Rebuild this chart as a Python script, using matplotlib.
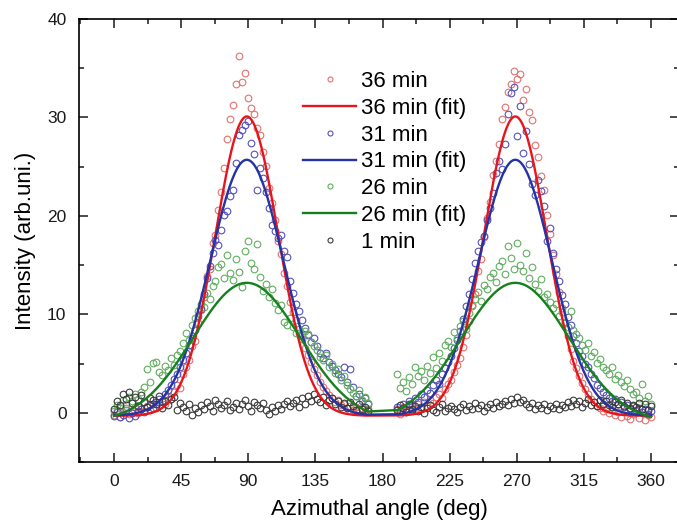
import numpy as np
import matplotlib
matplotlib.use('Agg')
import matplotlib.pyplot as plt
from matplotlib.ticker import MultipleLocator

# azimuthal angles of the measured points, the sector 170-190 deg is blocked by the beam stop
angle_left = np.arange(0, 171, 2)
angle_right = np.arange(190, 361, 2)
angles = np.concatenate([angle_left, angle_right])

# measured intensities (arb. units), 0..170 deg then 190..360 deg
intensity_36min = [
    -0.2, 0.3, -0.4, 0.1, 0.5, -0.1, 0.2, 0.6, 0.0, 0.4,
    0.2, 0.7, 0.3, 0.9, 0.5, 0.8, 1.2, 0.9, 1.6, 1.4,
    2.1, 2.8, 2.5, 3.9, 4.6, 5.4, 6.8, 7.3, 9.1, 10.4,
    11.8, 13.9, 14.6, 17.2, 18.1, 20.6, 22.4, 24.9, 27.8, 29.8,
    31.3, 33.4, 36.2, 33.6, 34.5, 32.0, 31.0, 30.4, 28.9, 28.2,
    26.5, 25.1, 22.8, 21.3, 19.6, 17.4, 16.1, 14.2, 12.9, 11.3,
    10.2, 9.4, 8.1, 7.5, 6.6, 5.9, 5.2, 4.4, 3.8, 3.1,
    2.6, 2.2, 1.8, 1.5, 1.1, 1.3, 0.8, 0.9, 0.5, 0.7,
    0.3, 0.6, 0.2, 0.5, 0.1, 0.4,
    0.4, -0.1, 0.6, 0.2, 0.8, 0.3, 0.5, 0.9, 0.4, 1.1,
    0.7, 1.3, 1.0, 1.6, 1.9, 1.5, 2.4, 2.9, 3.3, 4.1,
    4.9, 5.6, 6.7, 7.9, 9.3, 10.8, 12.1, 14.4, 15.6, 17.9,
    19.8, 21.4, 24.2, 25.6, 27.3, 29.8, 31.1, 32.6, 33.4, 34.7,
    33.9, 34.4, 31.8, 32.9, 30.6, 29.7, 27.2, 26.0, 24.1, 22.6,
    20.1, 18.2, 16.0, 14.1, 12.3, 10.6, 9.2, 7.8, 6.5, 5.3,
    4.5, 3.7, 3.0, 2.4, 1.9, 1.4, 1.1, 0.7, 0.5, 0.2,
    0.4, 0.0, 0.3, -0.2, 0.1, -0.4, 0.2, -0.3, -0.6, -0.1,
    0.2, -0.5, 0.1, -0.7, -0.2, -0.4]

intensity_31min = [
    -0.3, 0.1, -0.4, -0.2, 0.3, -0.5, 0.0, -0.3, 0.2, 0.4,
    0.1, 0.6, 0.8, 0.5, 1.1, 1.4, 1.2, 1.9, 2.3, 2.8,
    3.4, 3.9, 4.6, 5.4, 6.1, 6.9, 7.6, 8.4, 9.8, 10.5,
    12.1, 13.7, 14.9, 16.2, 17.6, 17.0, 18.6, 20.1, 20.5, 22.0,
    22.6, 25.4, 28.2, 28.7, 29.2, 29.6, 27.4, 26.3, 22.6, 24.9,
    23.8, 22.4, 20.8, 19.1, 18.5, 17.8, 18.1, 16.4, 15.8, 13.4,
    12.2, 11.1, 10.3, 9.4, 8.6, 7.9, 7.2, 7.6, 6.8, 6.1,
    5.6, 6.1, 5.2, 4.8, 4.3, 3.9, 3.6, 4.7, 3.1, 4.4,
    2.6, 1.7, 1.9, 1.2, 1.5, 0.9,
    0.6, 0.2, 0.9, 0.4, 1.2, 0.8, 1.5, 1.1, 1.9, 1.6,
    2.3, 2.0, 2.8, 3.3, 2.9, 3.9, 4.5, 5.2, 5.8, 6.6,
    7.4, 8.3, 9.5, 10.8, 12.1, 13.6, 15.2, 16.4, 17.3, 18.0,
    19.6, 20.8, 22.3, 24.4, 25.6, 24.8, 27.3, 30.4, 32.5, 33.1,
    28.1, 31.2, 26.4, 28.6, 25.3, 23.2, 22.1, 23.6, 22.5, 21.0,
    17.5, 18.8, 16.2, 14.6, 13.4, 12.0, 11.1, 9.7, 8.9, 7.8,
    7.1, 6.3, 5.8, 5.0, 4.6, 3.9, 3.5, 2.8, 2.5, 2.1,
    1.8, 1.5, 1.2, 1.4, 0.9, 1.1, 0.6, 0.8, 0.4, 0.7,
    0.3, 0.5, 0.1, 0.4, -0.1, 0.2]

intensity_26min = [
    0.2, 0.8, 0.5, 1.3, 0.9, 1.6, 1.2, 1.9, 1.4, 2.1,
    2.6, 4.4, 3.1, 5.1, 5.2, 4.1, 3.8, 4.8, 4.3, 5.6,
    4.9, 5.9, 6.3, 7.1, 8.1, 7.4, 8.9, 9.6, 10.3, 11.0,
    10.7, 12.2, 11.6, 12.9, 13.4, 14.8, 15.1, 13.7, 16.0, 14.2,
    13.5, 15.6, 14.3, 12.8, 16.4, 17.5, 15.2, 14.6, 17.1, 13.8,
    12.4, 13.1, 11.8, 12.6, 11.2, 10.4, 10.9, 9.2, 8.9, 9.6,
    8.7, 8.1, 8.5, 7.9, 8.3, 8.0, 7.2, 6.8, 6.4, 5.7,
    5.4, 5.9, 4.6, 5.0, 4.0, 4.4, 3.3, 3.7, 2.8, 2.4,
    2.0, 1.7, 2.3, 1.3, 1.6, 1.0,
    3.9, 2.5, 3.1, 2.2, 3.6, 2.9, 4.6, 3.7, 4.2, 3.3,
    4.8, 4.0, 5.7, 4.5, 6.1, 5.3, 6.9, 7.3, 6.7, 8.2,
    7.6, 8.8, 9.3, 8.5, 10.1, 10.9, 11.6, 12.3, 11.4, 13.0,
    12.6, 13.8, 14.2, 13.3, 14.9, 15.4, 14.1, 16.9, 15.7, 14.6,
    17.2, 15.0, 14.4, 16.2, 13.7, 14.8, 13.1, 12.4, 13.6, 11.8,
    12.1, 11.3, 10.6, 11.0, 9.8, 10.2, 9.1, 8.7, 10.3, 8.4,
    8.0, 7.6, 6.9, 6.4, 7.1, 5.8, 6.2, 5.1, 5.5, 4.6,
    4.3, 3.9, 4.7, 3.4, 3.8, 3.1, 2.7, 3.3, 2.4, 1.9,
    2.1, 1.5, 2.9, 1.2, 1.7, 0.9]

intensity_1min = [
    0.4, 1.2, 0.8, 1.9, 1.4, 2.1, 1.0, 1.6, 0.7, 1.8,
    1.1, 0.6, 1.5, 1.3, 0.9, 1.7, 0.5, 1.2, 0.8, 1.4,
    1.6, 0.3, 1.0, 0.6, 0.2, 0.9, -0.2, 0.5, 0.1, 0.8,
    0.4, 1.1, 0.7, 0.2, 1.3, 0.9, 0.5, 0.8, 1.2, 0.3,
    0.6, 1.0, 0.4, 0.9, 1.3, 0.7, 0.2, 1.1, 0.8, 0.5,
    1.0, 0.3, -0.1, 0.6, 0.2, 0.8, 0.4, 0.9, 1.2, 0.7,
    1.0, 1.3, 0.6, 1.5, 0.9, 1.7, 1.2, 1.9, 1.4, 1.1,
    1.6, 0.8, 1.3, 1.5, 0.9, 1.2, 0.6, 1.0, 0.5, 1.1,
    0.7, 0.3, 0.9, 0.4, 0.6, 0.2,
    0.3, 0.8, 0.5, 0.1, 0.9, 0.4, 0.7, 0.2, 0.6, 0.0,
    0.5, 0.8, 0.3, 0.1, 0.6, 0.9, 0.2, 0.5, 0.7, 0.4,
    0.1, 0.6, 0.9, 0.3, 0.7, 0.4, 1.0, 0.5, 0.8, 0.2,
    0.6, 0.9, 0.5, 1.1, 0.7, 0.9, 1.2, 0.8, 1.4, 1.0,
    1.6, 1.1, 1.3, 0.9, 0.6, 1.0, 0.4, 0.8, 0.5, 0.9,
    0.3, 0.7, 0.5, 0.9, 0.4, 0.8, 0.6, 1.1, 0.7, 1.3,
    0.9, 1.2, 0.6, 1.0, 1.4, 0.8, 1.1, 0.7, 1.3, 0.9,
    1.2, 0.8, 0.6, 1.1, 0.9, 1.3, 0.7, 1.0, 0.5, 0.8,
    0.6, 1.0, 0.4, 0.9, 0.3, 0.7]

# Gaussian fit parameters for 36, 31 and 26 min (one peak per half circle)
fit_labels = ['36 min (fit)', '31 min (fit)', '26 min (fit)']
fit_amplitude = [30.4, 26.0, 14.2]
fit_sigma = [21.0, 24.5, 36.0]
fit_offset = [-0.3, -0.3, -1.0]
fit_centers = [89, 269]

scatter_labels = ['36 min', '31 min', '26 min', '1 min']
scatter_data = [intensity_36min, intensity_31min, intensity_26min, intensity_1min]
scatter_colors = ['#e4716f', '#5252bd', '#62ad62', '#3a3a3a']
fit_colors = ['#e8141c', '#2533a3', '#16801e']

plt.rcParams['font.family'] = ['Liberation Sans', 'DejaVu Sans']

fig = plt.figure(figsize=(6.77, 5.27), dpi=100)
ax = fig.add_axes([79/677, 65/527, 600/677, 443/527])

points = []
for label, values, color in zip(scatter_labels, scatter_data, scatter_colors):
    p, = ax.plot(angles, values, linestyle='none', marker='o', ms=4.8,
                 mfc='none', mec=color, mew=0.8, label=label, zorder=2)
    points.append(p)

# fitted curves, evaluated over the measured sectors only (straight join across the gap)
x_fit = np.concatenate([np.linspace(0, 170, 341), np.linspace(190, 360, 341)])
fits = []
for i in range(len(fit_labels)):
    center = np.where(x_fit < 180, fit_centers[0], fit_centers[1])
    y_fit = fit_amplitude[i] * np.exp(-(x_fit - center) ** 2 / (2 * fit_sigma[i] ** 2)) + fit_offset[i]
    f, = ax.plot(x_fit, y_fit, color=fit_colors[i], lw=1.7, label=fit_labels[i], zorder=3)
    fits.append(f)

ax.set_xlim(-23.5, -23.5 + 600 / (537 / 360))
ax.set_ylim(-5, 40)
ax.xaxis.set_major_locator(MultipleLocator(45))
ax.xaxis.set_minor_locator(MultipleLocator(22.5))
ax.yaxis.set_major_locator(MultipleLocator(10))
ax.yaxis.set_minor_locator(MultipleLocator(5))
ax.tick_params(which='both', direction='in', top=True, right=True, width=1.1, labelsize=12.5, colors='#1a1a1a')
ax.tick_params(which='major', length=6.5, pad=9)
ax.tick_params(which='minor', length=3.5)
for spine in ax.spines.values():
    spine.set_linewidth(1.2)

ax.set_xlabel('Azimuthal angle (deg)', fontsize=16, labelpad=7)
ax.set_ylabel('Intensity (arb.uni.)', fontsize=16, labelpad=8)

handles = [points[0], fits[0], points[1], fits[1], points[2], fits[2], points[3]]
ax.legend(handles=handles, loc='upper left', bbox_to_anchor=(303/677, 1 - 71/527),
          bbox_transform=fig.transFigure, frameon=False, fontsize=16,
          handlelength=2.4, handletextpad=0.2, labelspacing=0.26, markerscale=0.75,
          borderpad=0, borderaxespad=0)

plt.savefig('out.png', dpi=100)
plt.close()
